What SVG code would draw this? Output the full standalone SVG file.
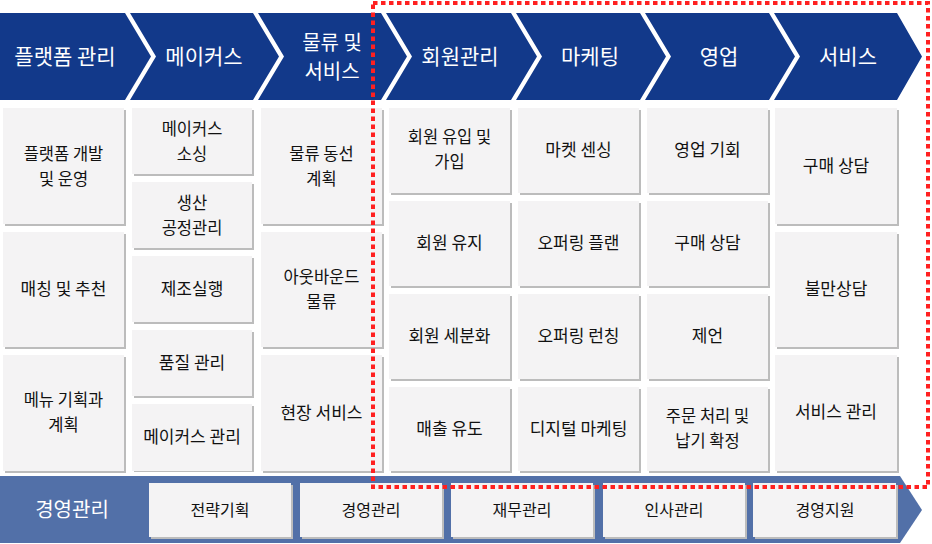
<svg xmlns="http://www.w3.org/2000/svg" width="932" height="544" viewBox="0 0 932 544">
<defs>
<style>
.chev{fill:#12398a}
.hdr{fill:#ffffff;font-family:"Noto Sans CJK KR","Noto Sans",sans-serif;font-size:21px;text-anchor:middle}
.hdr2{fill:#ffffff;font-family:"Noto Sans CJK KR","Noto Sans",sans-serif;font-size:20px;text-anchor:middle}
.box{fill:#f4f3f4}
.sh{fill:#bcbcbc}
.t{fill:#111111;font-family:"Noto Sans CJK KR","Noto Sans",sans-serif;font-size:17px;text-anchor:middle}
.t2{fill:#111111;font-family:"Noto Sans CJK KR","Noto Sans",sans-serif;font-size:16.5px;text-anchor:middle}
.tb{fill:#111111;font-family:"Noto Sans CJK KR","Noto Sans",sans-serif;font-size:16px;text-anchor:middle}
.bar{fill:#5270a8}
.lbl{fill:#ffffff;font-family:"Noto Sans CJK KR","Noto Sans",sans-serif;font-size:20px;text-anchor:middle}
.red{fill:none;stroke:#ff2020;stroke-width:4;stroke-dasharray:4.5 3.5}
</style>
</defs>
<rect width="932" height="544" fill="#ffffff"/>

<g id="headers">
  <g id="h1"><polygon class="chev" points="0,13 125,13 151,56.5 125,100 0,100"/><text class="hdr" x="65" y="64">플랫폼 관리</text></g>
  <g id="h2"><polygon class="chev" points="130,13 253,13 279,56.5 253,100 130,100 156,56.5"/><text class="hdr" x="204" y="64">메이커스</text></g>
  <g id="h3"><polygon class="chev" points="258,13 381,13 407,56.5 381,100 258,100 284,56.5"/><text class="hdr2" x="332" y="50">물류 및</text><text class="hdr2" x="332" y="79">서비스</text></g>
  <g id="h4"><polygon class="chev" points="386,13 511,13 537,56.5 511,100 386,100 412,56.5"/><text class="hdr" x="460" y="64">회원관리</text></g>
  <g id="h5"><polygon class="chev" points="516,13 640,13 666,56.5 640,100 516,100 542,56.5"/><text class="hdr" x="590" y="64">마케팅</text></g>
  <g id="h6"><polygon class="chev" points="645,13 769,13 795,56.5 769,100 645,100 671,56.5"/><text class="hdr" x="719" y="64">영업</text></g>
  <g id="h7"><polygon class="chev" points="774,13 897,13 922,56.5 897,100 774,100 800,56.5"/><text class="hdr" x="848" y="64">서비스</text></g>
</g>

<g id="col1">
  <g id="c1b1"><rect class="sh" x="5" y="110" width="121" height="116"/><rect class="box" x="3" y="108" width="121" height="116"/><text class="t2" x="63.5" y="160">플랫폼 개발</text><text class="t2" x="63.5" y="185">및 운영</text></g>
  <g id="c1b2"><rect class="sh" x="5" y="234" width="121" height="115"/><rect class="box" x="3" y="232" width="121" height="115"/><text class="t" x="63.5" y="295">매칭 및 추천</text></g>
  <g id="c1b3"><rect class="sh" x="5" y="357" width="121" height="116"/><rect class="box" x="3" y="355" width="121" height="116"/><text class="t2" x="63.5" y="406">메뉴 기획과</text><text class="t2" x="63.5" y="431">계획</text></g>
</g>

<g id="col2">
  <g id="c2b1"><rect class="sh" x="134" y="110" width="120" height="66"/><rect class="box" x="132" y="108" width="120" height="66"/><text class="t2" x="192" y="135">메이커스</text><text class="t2" x="192" y="160">소싱</text></g>
  <g id="c2b2"><rect class="sh" x="134" y="184" width="120" height="66"/><rect class="box" x="132" y="182" width="120" height="66"/><text class="t2" x="192" y="209">생산</text><text class="t2" x="192" y="234">공정관리</text></g>
  <g id="c2b3"><rect class="sh" x="134" y="258" width="120" height="66"/><rect class="box" x="132" y="256" width="120" height="66"/><text class="t" x="192" y="295">제조실행</text></g>
  <g id="c2b4"><rect class="sh" x="134" y="332" width="120" height="66"/><rect class="box" x="132" y="330" width="120" height="66"/><text class="t" x="192" y="369">품질 관리</text></g>
  <g id="c2b5"><rect class="sh" x="134" y="406" width="120" height="66"/><rect class="box" x="132" y="404" width="120" height="67"/><text class="t" x="192" y="443">메이커스 관리</text></g>
</g>

<g id="col3">
  <g id="c3b1"><rect class="sh" x="263" y="110" width="121" height="116"/><rect class="box" x="261" y="108" width="121" height="116"/><text class="t2" x="321.5" y="160">물류 동선</text><text class="t2" x="321.5" y="185">계획</text></g>
  <g id="c3b2"><rect class="sh" x="263" y="234" width="121" height="115"/><rect class="box" x="261" y="232" width="121" height="115"/><text class="t2" x="321.5" y="283">아웃바운드</text><text class="t2" x="321.5" y="308">물류</text></g>
  <g id="c3b3"><rect class="sh" x="263" y="357" width="121" height="116"/><rect class="box" x="261" y="355" width="121" height="116"/><text class="t" x="321.5" y="419">현장 서비스</text></g>
</g>

<g id="col4">
  <g id="c4b1"><rect class="sh" x="391" y="110" width="121" height="85"/><rect class="box" x="389" y="108" width="121" height="85"/><text class="t2" x="449.5" y="143">회원 유입 및</text><text class="t2" x="449.5" y="168">가입</text></g>
  <g id="c4b2"><rect class="sh" x="391" y="203" width="121" height="85"/><rect class="box" x="389" y="201" width="121" height="85"/><text class="t" x="449.5" y="249">회원 유지</text></g>
  <g id="c4b3"><rect class="sh" x="391" y="296" width="121" height="85"/><rect class="box" x="389" y="294" width="121" height="85"/><text class="t" x="449.5" y="342">회원 세분화</text></g>
  <g id="c4b4"><rect class="sh" x="391" y="389" width="121" height="84"/><rect class="box" x="389" y="387" width="121" height="84"/><text class="t" x="449.5" y="435">매출 유도</text></g>
</g>

<g id="col5">
  <g id="c5b1"><rect class="sh" x="520" y="110" width="121" height="85"/><rect class="box" x="518" y="108" width="121" height="85"/><text class="t" x="578.5" y="156">마켓 센싱</text></g>
  <g id="c5b2"><rect class="sh" x="520" y="203" width="121" height="85"/><rect class="box" x="518" y="201" width="121" height="85"/><text class="t" x="578.5" y="249">오퍼링 플랜</text></g>
  <g id="c5b3"><rect class="sh" x="520" y="296" width="121" height="85"/><rect class="box" x="518" y="294" width="121" height="85"/><text class="t" x="578.5" y="342">오퍼링 런칭</text></g>
  <g id="c5b4"><rect class="sh" x="520" y="389" width="121" height="84"/><rect class="box" x="518" y="387" width="121" height="84"/><text class="t" x="578.5" y="435">디지털 마케팅</text></g>
</g>

<g id="col6">
  <g id="c6b1"><rect class="sh" x="649" y="110" width="121" height="85"/><rect class="box" x="647" y="108" width="121" height="85"/><text class="t" x="707.5" y="156">영업 기회</text></g>
  <g id="c6b2"><rect class="sh" x="649" y="203" width="121" height="85"/><rect class="box" x="647" y="201" width="121" height="85"/><text class="t" x="707.5" y="249">구매 상담</text></g>
  <g id="c6b3"><rect class="sh" x="649" y="296" width="121" height="85"/><rect class="box" x="647" y="294" width="121" height="85"/><text class="t" x="707.5" y="342">제언</text></g>
  <g id="c6b4"><rect class="sh" x="649" y="389" width="121" height="84"/><rect class="box" x="647" y="387" width="121" height="84"/><text class="t2" x="707.5" y="422">주문 처리 및</text><text class="t2" x="707.5" y="447">납기 확정</text></g>
</g>

<g id="col7">
  <g id="c7b1"><rect class="sh" x="777" y="110" width="122" height="116"/><rect class="box" x="775" y="108" width="122" height="116"/><text class="t" x="836" y="172">구매 상담</text></g>
  <g id="c7b2"><rect class="sh" x="777" y="234" width="122" height="115"/><rect class="box" x="775" y="232" width="122" height="115"/><text class="t" x="836" y="295">불만상담</text></g>
  <g id="c7b3"><rect class="sh" x="777" y="357" width="122" height="116"/><rect class="box" x="775" y="355" width="122" height="116"/><text class="t" x="836" y="418">서비스 관리</text></g>
</g>

<g id="bottom">
  <polygon class="bar" points="0,476 900,476 922,510 900,543 0,543"/>
  <text class="lbl" x="72" y="517">경영관리</text>
  <g id="b1"><rect class="sh" x="151" y="485" width="142" height="54"/><rect class="box" x="149" y="483" width="142" height="54"/><text class="tb" x="220" y="516">전략기획</text></g>
  <g id="b2"><rect class="sh" x="302" y="485" width="142" height="54"/><rect class="box" x="300" y="483" width="142" height="54"/><text class="tb" x="371" y="516">경영관리</text></g>
  <g id="b3"><rect class="sh" x="453" y="485" width="142" height="54"/><rect class="box" x="451" y="483" width="142" height="54"/><text class="tb" x="522" y="516">재무관리</text></g>
  <g id="b4"><rect class="sh" x="605" y="485" width="142" height="54"/><rect class="box" x="603" y="483" width="142" height="54"/><text class="tb" x="674" y="516">인사관리</text></g>
  <g id="b5"><rect class="sh" x="755" y="485" width="143" height="54"/><rect class="box" x="753" y="483" width="143" height="54"/><text class="tb" x="825" y="516">경영지원</text></g>
</g>

<rect id="highlight" class="red" x="373" y="3" width="555" height="484"/>
</svg>
